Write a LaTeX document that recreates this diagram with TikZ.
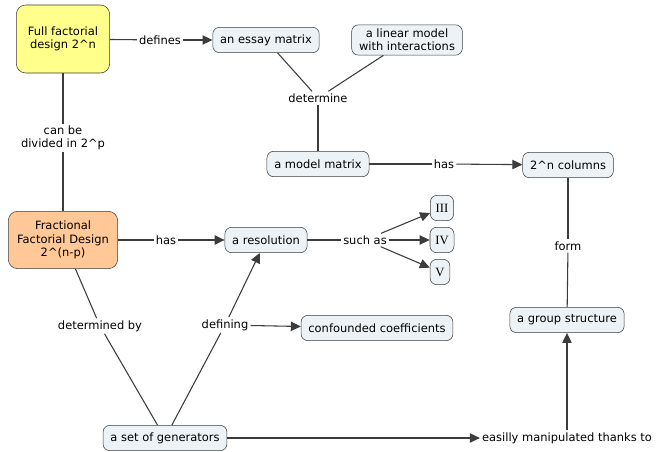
\documentclass[tikz,border=0pt]{standalone}
\usepackage{fontspec}
\setmainfont{DejaVu Sans}
\newfontfamily\romanfont{Liberation Serif}
\usetikzlibrary{arrows.meta}
\definecolor{cfill}{RGB}{236,242,246}
\definecolor{fullyellow}{RGB}{255,255,140}
\definecolor{fracorange}{RGB}{255,200,150}
\definecolor{linegray}{RGB}{60,60,60}
\tikzset{
  concept/.style = {rounded corners=5pt, draw=linegray, fill=cfill, align=center,
                    font=\fontsize{8.6}{10}\selectfont, minimum height=19pt,
                    inner xsep=5.5pt, inner ysep=3pt},
  % the two design boxes are larger and coloured
  cbig/.style    = {concept, rounded corners=7pt},
  % resolution levels are set in a serif face
  level/.style   = {concept, inner xsep=4pt, font=\romanfont\fontsize{9.5}{10}\selectfont},
  phrase/.style  = {align=center, font=\fontsize{8.6}{10}\selectfont, inner sep=1.5pt},
  link/.style    = {draw=linegray, line width=0.8pt},
  arr/.style     = {link, -{Triangle[length=7.5pt,width=7pt]}},
}
\begin{document}
\begin{tikzpicture}[x=0.75pt, y=-0.75pt]
    \useasboundingbox (0,0) rectangle (657,452);

    \node[cbig, fill=fullyellow, minimum width=70pt, minimum height=51pt] (full) at (63,39) {Full factorial\\design 2\textasciicircum n};
    \node[cbig, fill=fracorange, minimum width=82pt, minimum height=43pt] (frac) at (63,240) {Fractional\\Factorial Design\\2\textasciicircum(n-p)};

    \node[concept] (essay)  at (266,40)  {an essay matrix};
    \node[concept] (linear) at (407,40)  {a linear model\\with interactions};
    \node[concept] (modelm) at (318,164) {a model matrix};
    \node[concept] (cols)   at (568,165) {2\textasciicircum n columns};
    \node[concept] (reso)   at (266,240) {a resolution};
    \node[level] (r3) at (442,208) {III};
    \node[level] (r4) at (442,240) {IV};
    \node[level] (r5) at (440,272) {V};
    \node[concept] (confc)  at (377,328) {confounded coefficients};
    \node[concept] (group)  at (567,320) {a group structure};
    \node[concept] (gens)   at (165,438) {a set of generators};

    \node[phrase] (defines)  at (160,40)  {defines};
    \node[phrase] (divided)  at (63,138)  {can be\\divided in 2\textasciicircum p};
    \node[phrase] (determ)   at (318,98)  {determine};
    \node[phrase] (hasm)     at (444,164) {has};
    \node[phrase] (hasf)     at (166,240) {has};
    \node[phrase] (suchas)   at (365,240) {such as};
    \node[phrase] (form)     at (568,246) {form};
    \node[phrase] (detby)    at (100,326) {determined by};
    \node[phrase] (defining) at (225,325) {defining};
    \node[phrase] (easy)     at (567,438) {easilly manipulated thanks to};

    \draw[link] (full) -- (defines);
    \draw[arr]  (defines) -- (essay);
    \draw[link] (full) -- (divided);
    \draw[link] (divided) -- (frac);
    \draw[link] (essay) -- (determ);
    \draw[link] (linear) -- (determ);
    \draw[link] (determ) -- (modelm);
    \draw[link] (modelm) -- (hasm);
    \draw[arr]  (hasm) -- (cols);
    \draw[link] (cols) -- (form);
    \draw[link] (form) -- (group);
    \draw[link] (frac) -- (hasf);
    \draw[arr]  (hasf) -- (reso);
    \draw[link] (reso) -- (suchas);
    \draw[arr]  (suchas) -- (r3);
    \draw[arr]  (suchas) -- (r4);
    \draw[arr]  (suchas) -- (r5);
    \draw[link] (frac) -- (detby);
    \draw[link] (detby) -- (gens);
    \draw[link] (gens) -- (defining);
    \draw[arr]  (defining) -- (reso);
    \draw[arr]  (defining) -- (confc);
    \draw[arr]  (gens) -- (easy);
    \draw[arr]  (easy) -- (group);
\end{tikzpicture}
\end{document}
